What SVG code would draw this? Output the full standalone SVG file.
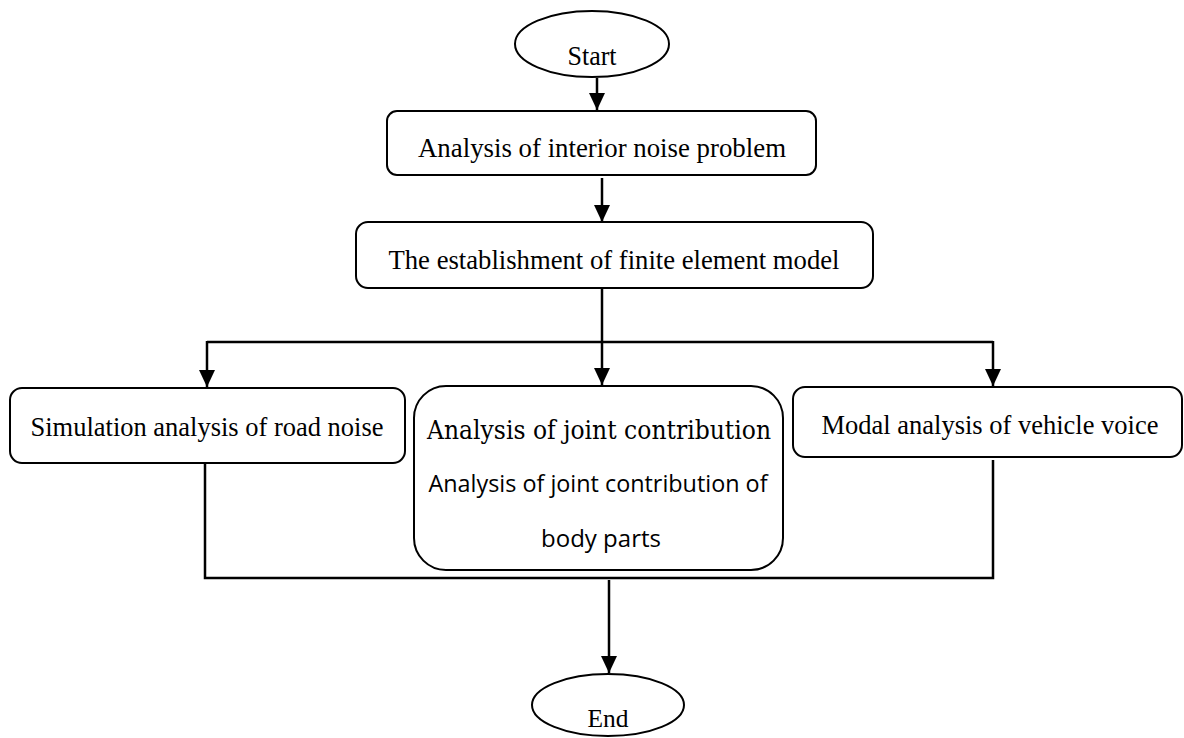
<svg xmlns="http://www.w3.org/2000/svg" width="1184" height="738" viewBox="0 0 1184 738">
<style>
.box{fill:#fff;stroke:#000;stroke-width:2}
.t{font-family:"Liberation Serif","Times New Roman",serif;font-size:28px;fill:#000;text-anchor:middle}
.pal{font-family:"DejaVu Serif","Liberation Serif",serif;font-size:26px;fill:#000;text-anchor:middle}
.cal{font-family:"Open Sans","Liberation Sans",sans-serif;font-size:24px;fill:#000;text-anchor:middle}
.c{fill:none;stroke:#000;stroke-width:2.5}
</style>
<defs>
<marker id="ah" viewBox="0 0 17 16" refX="17" refY="8" markerWidth="17" markerHeight="16" markerUnits="userSpaceOnUse" orient="auto">
<path d="M0,0 L17,8 L0,16 Z" fill="#000"/>
</marker>
</defs>
<rect width="1184" height="738" fill="#fff"/>
<g id="connectors">
<path class="c" d="M597,78 V110" marker-end="url(#ah)"/>
<path class="c" d="M602,178 V222" marker-end="url(#ah)"/>
<path class="c" d="M602,288 V385" marker-end="url(#ah)"/>
<path class="c" d="M207,342 H993"/>
<path class="c" d="M207,341 V387" marker-end="url(#ah)"/>
<path class="c" d="M993,341 V386" marker-end="url(#ah)"/>
<path class="c" d="M205,460 V578 H993 V460"/>
<path class="c" d="M609,580 V673" marker-end="url(#ah)"/>
</g>
<g id="start">
<ellipse class="box" cx="592" cy="44" rx="77" ry="33"/>
<text class="t" x="592" y="65" textLength="49" lengthAdjust="spacingAndGlyphs">Start</text>
</g>
<g id="n1">
<rect class="box" x="387" y="111" width="429" height="64" rx="10"/>
<text class="t" x="602" y="157" textLength="368" lengthAdjust="spacingAndGlyphs">Analysis of interior noise problem</text>
</g>
<g id="n2">
<rect class="box" x="356" y="222" width="517" height="66" rx="12"/>
<text class="t" x="614" y="269" textLength="451" lengthAdjust="spacingAndGlyphs">The establishment of finite element model</text>
</g>
<g id="n3">
<rect class="box" x="10" y="388" width="395" height="75" rx="12"/>
<text class="t" x="207" y="436" textLength="353" lengthAdjust="spacingAndGlyphs">Simulation analysis of road noise</text>
</g>
<g id="n4">
<rect class="box" x="414" y="386" width="369" height="184" rx="32"/>
<text class="pal" x="599" y="439" textLength="344" lengthAdjust="spacingAndGlyphs">Analysis of joint contribution</text>
<text class="cal" x="598" y="492" textLength="339" lengthAdjust="spacingAndGlyphs">Analysis of joint contribution of</text>
<text class="cal" x="601" y="547">body parts</text>
</g>
<g id="n5">
<rect class="box" x="793" y="387" width="389" height="70" rx="12"/>
<text class="t" x="990" y="434" textLength="337" lengthAdjust="spacingAndGlyphs">Modal analysis of vehicle voice</text>
</g>
<g id="end">
<ellipse class="box" cx="608" cy="705" rx="76" ry="31"/>
<text class="t" x="608" y="727" textLength="41" lengthAdjust="spacingAndGlyphs" style="font-size:25px">End</text>
</g>
</svg>
